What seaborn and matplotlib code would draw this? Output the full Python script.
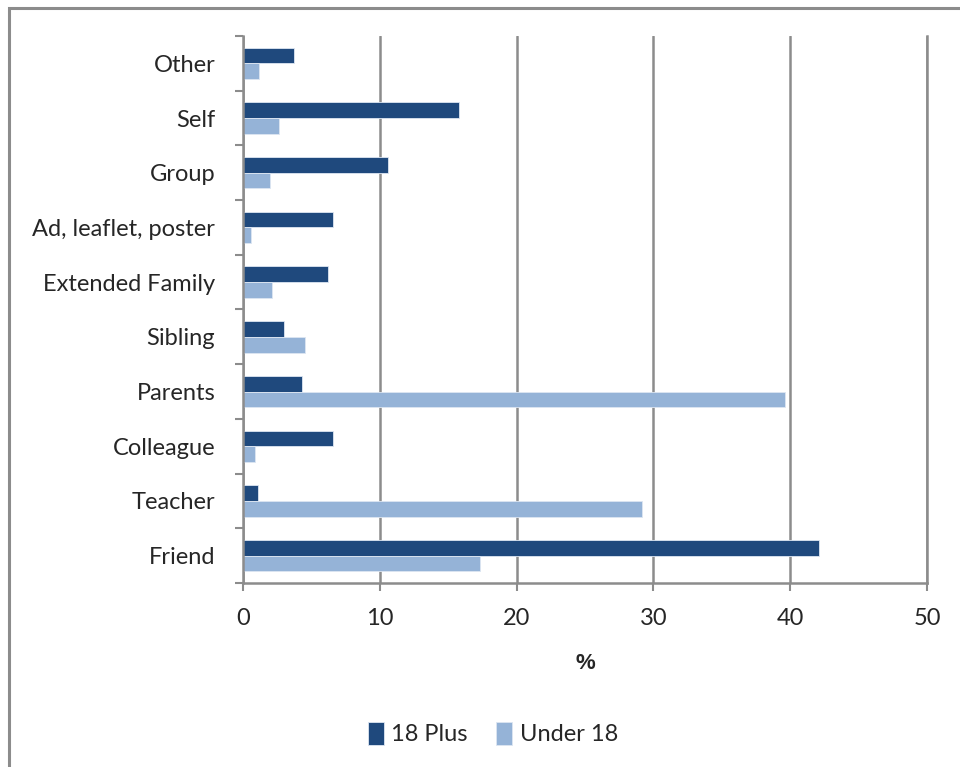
import pandas as pd
import seaborn as sns
import matplotlib.pyplot as plt
from matplotlib.patches import Rectangle

# data (percent)
categories = ['Other', 'Self', 'Group', 'Ad, leaflet, poster', 'Extended Family',
              'Sibling', 'Parents', 'Colleague', 'Teacher', 'Friend']
plus_18 = [3.7, 15.8, 10.6, 6.6, 6.2, 3.0, 4.3, 6.6, 1.1, 42.1]
under_18 = [1.2, 2.6, 2.0, 0.6, 2.1, 4.5, 39.6, 0.9, 29.2, 17.3]
groups = ['18 Plus', 'Under 18']

df = pd.DataFrame({
    'category': categories * 2,
    'value': plus_18 + under_18,
    'group': [groups[0]] * len(categories) + [groups[1]] * len(categories),
})

sns.set_style('white')
plt.rcParams['font.family'] = ['Lato', 'DejaVu Sans']

fig = plt.figure(figsize=(9.6, 7.67), dpi=100)
ax = fig.add_axes([243 / 960, 1 - 583 / 767, (927 - 243) / 960, (583 - 36) / 767])

sns.barplot(data=df, y='category', x='value', hue='group', order=categories,
            hue_order=groups, palette=['#1F497D', '#95B3D7'], orient='h',
            saturation=1, width=0.575, edgecolor='#dde6f2', linewidth=0.6, ax=ax)

ax.set_xlim(0, 50)
ax.set_xticks(range(0, 51, 10))
ax.set_ylim(len(categories) - 0.5, -0.5)
ax.set_xlabel('%', fontsize=16, fontweight='bold', family=['Liberation Sans'], labelpad=17)
ax.set_ylabel('')

grid_col = '#8c8c8c'
ax.xaxis.grid(True, color=grid_col, linewidth=1.8)
ax.set_axisbelow(True)
ax.spines['top'].set_visible(False)
for s in ['left', 'bottom', 'right']:
    ax.spines[s].set_color(grid_col)
    ax.spines[s].set_linewidth(1.8)

# category boundary ticks on the y axis
ax.set_yticks([i - 0.5 for i in range(len(categories) + 1)], minor=True)
ax.tick_params(axis='y', which='major', length=0, labelsize=17, pad=20)
ax.tick_params(axis='y', which='minor', length=6, width=1.5, color=grid_col, left=True)
ax.tick_params(axis='x', which='major', length=6, width=1.5, color=grid_col,
               labelsize=17, pad=12, bottom=True)

leg = ax.legend(loc='upper center', bbox_to_anchor=(0.365, -0.215), ncol=2, frameon=False,
                fontsize=17, handlelength=0.7, handleheight=1.1, handletextpad=0.3,
                columnspacing=1.2)

# chart area border
fig.patches.append(Rectangle((9 / 960, -0.05), 1.1, 1 - 8 / 767 + 0.05,
                             transform=fig.transFigure, fill=False,
                             edgecolor=grid_col, linewidth=2.2))

fig.savefig('out.png', dpi=100)
